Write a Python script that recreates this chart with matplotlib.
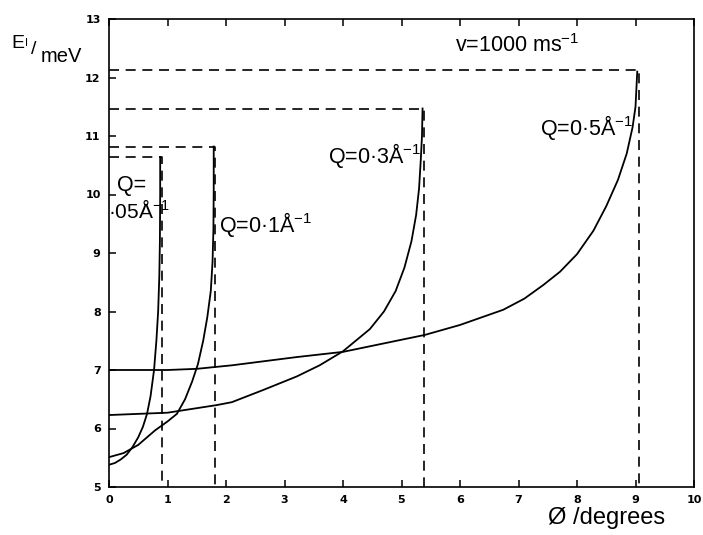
import matplotlib.pyplot as plt

plt.rcParams['mathtext.fontset'] = 'custom'
plt.rcParams['mathtext.rm'] = 'Liberation Sans'
plt.rcParams['mathtext.it'] = 'Liberation Sans:italic'
plt.rcParams['mathtext.bf'] = 'Liberation Sans:bold'

# valores (phi en grados, E en meV)
phi_q005 = [0, 0.1, 0.2, 0.3, 0.4, 0.5, 0.58, 0.65, 0.71, 0.77, 0.81, 0.84, 0.86, 0.87, 0.875, 0.875]
e_q005 = [5.38, 5.41, 5.47, 5.55, 5.68, 5.85, 6.03, 6.25, 6.55, 7.0, 7.5, 8.0, 8.6, 9.2, 10.0, 10.64]

phi_q01 = [0, 0.25, 0.5, 0.79, 1.0, 1.16, 1.3, 1.42, 1.52, 1.61, 1.68, 1.74, 1.77, 1.785, 1.79, 1.79]
e_q01 = [5.51, 5.58, 5.72, 5.97, 6.12, 6.25, 6.5, 6.8, 7.1, 7.5, 7.9, 8.35, 8.85, 9.4, 10.1, 10.82]

phi_q03 = [0, 1.0, 1.84, 2.1, 2.64, 3.21, 3.6, 4.0, 4.46, 4.7, 4.9, 5.05, 5.17, 5.25, 5.3, 5.33, 5.35, 5.36]
e_q03 = [6.23, 6.27, 6.4, 6.45, 6.66, 6.89, 7.08, 7.32, 7.7, 8.0, 8.35, 8.75, 9.2, 9.65, 10.1, 10.6, 11.0, 11.47]

phi_q05 = [0, 1.0, 1.5, 2.1, 3.2, 4.0, 5.4, 6.0, 6.74, 7.1, 7.42, 7.71, 8.0, 8.28, 8.5, 8.7, 8.85, 8.95, 9.0, 9.03]
e_q05 = [7.0, 7.0, 7.02, 7.08, 7.22, 7.31, 7.6, 7.77, 8.03, 8.22, 8.45, 8.68, 8.98, 9.38, 9.8, 10.25, 10.7, 11.15, 11.5, 12.1]

# esquinas de las lineas discontinuas (phi max, E max)
phi_max = [0.9, 1.81, 5.38, 9.06]
e_max = [10.64, 10.82, 11.47, 12.13]

x_ticks = list(range(0, 11))
y_ticks = list(range(5, 14))

W, H = 703, 535
fig = plt.figure(figsize=(W / 100, H / 100), dpi=100)
ax = fig.add_axes([109 / W, 1 - 487 / H, (694 - 109) / W, (487 - 19) / H])

for xs, ys in [(phi_q005, e_q005), (phi_q01, e_q01), (phi_q03, e_q03), (phi_q05, e_q05)]:
    ax.plot(xs, ys, color='black', lw=1.3)

for pm, em in zip(phi_max, e_max):
    ax.plot([0, pm, pm], [em, em, 5], color='black', lw=1.2, ls=(0, (6, 4)))

ax.set_xlim(0, 10)
ax.set_ylim(5, 13)
ax.set_xticks(x_ticks)
ax.set_yticks(y_ticks)
ax.tick_params(direction='in', length=5, width=1.1, top=True, labelsize=8, pad=6)
for lab in ax.get_xticklabels() + ax.get_yticklabels():
    lab.set_fontweight('bold')
for s in ax.spines.values():
    s.set_linewidth(1.2)

fam = 'Liberation Sans'
txt = dict(fontsize=15.5, va='center', ha='left', family=fam)
ax.text(5.91, 12.54, r'v=1000 ms$^{-1}$', **txt)
ax.text(7.37, 11.15, r'Q=0·5Å$^{-1}$', **txt)
ax.text(3.74, 10.66, r'Q=0·3Å$^{-1}$', **txt)
ax.text(1.88, 9.48, r'Q=0·1Å$^{-1}$', **txt)
ax.text(0.14, 10.16, 'Q=', **txt)
ax.text(-0.02, 9.72, r'·05Å$^{-1}$', fontsize=15, va='center', ha='left', family=fam)

fig.text(11 / W, 1 - 44 / H, 'E', fontsize=14, va='center', ha='left', family=fam)
fig.text(25 / W, 1 - 43 / H, 'I', fontsize=8, va='center', ha='left', family=fam)
fig.text(31 / W, 1 - 49 / H, '/', fontsize=14, va='center', ha='left', family=fam)
fig.text(41 / W, 1 - 57 / H, 'meV', fontsize=14.5, va='center', ha='left', family=fam)
fig.text(548 / W, 1 - 518 / H, 'Ø /degrees', fontsize=17, va='center', ha='left', family=fam)

fig.savefig('out.png', dpi=100)
